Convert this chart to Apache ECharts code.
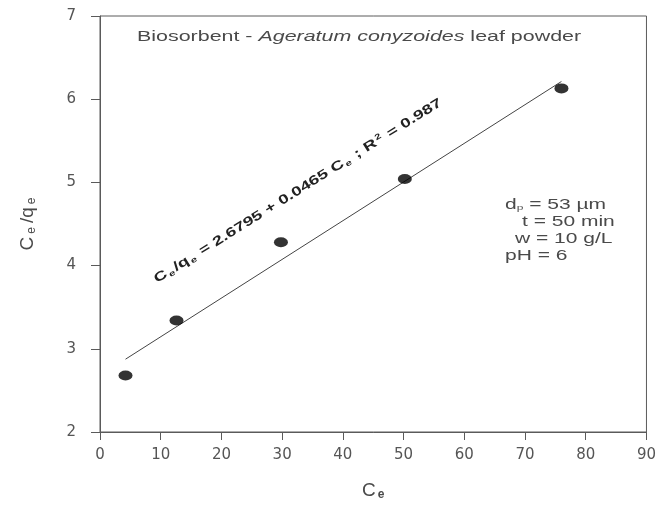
<!DOCTYPE html>
<html><head><meta charset="utf-8">
<script src="https://cdn.jsdelivr.net/npm/echarts@6/dist/echarts.min.js"></script>
<style>html,body{margin:0;padding:0;background:#fff}#c{width:659px;height:506px}</style>
</head><body><div id="c"></div>
<script>
var ceValues = [4.2, 12.6, 29.8, 50.2, 76.0];
var ceQeValues = [2.68, 3.34, 4.28, 5.04, 6.13];
var fitX = [4.2, 76.0];
var fitY = [2.875, 6.213];
var xTicks = [0, 10, 20, 30, 40, 50, 60, 70, 80, 90];
var yTicks = [2, 3, 4, 5, 6, 7];

var chart = echarts.init(document.getElementById('c'));
var axisColor = '#5a5a5a';
var font = 'Liberation Sans, Arial, sans-serif';
var lblFont = 'DejaVu Sans, sans-serif';
var txt = '#4a4a4a';
chart.setOption({
  animation: false,
  grid: {left: 100, right: 6, top: 16, bottom: 69, show: true, borderColor: axisColor, borderWidth: 1},
  xAxis: {
    type: 'value', min: 0, max: 90, interval: 10,
    axisLine: {show: true, lineStyle: {color: axisColor}},
    axisTick: {show: true, length: 8, lineStyle: {color: axisColor}},
    splitLine: {show: false},
    axisLabel: {color: '#555', fontSize: 15, fontFamily: lblFont, margin: 16},
    name: '{m|C}{s|e}', nameLocation: 'middle', nameGap: 48,
    nameTextStyle: {rich: {
      m: {fontSize: 19, color: txt, fontFamily: font},
      s: {fontSize: 12, color: txt, fontFamily: font, fontWeight: 'bold', padding: [9, 0, 0, 2]}
    }}
  },
  yAxis: {
    type: 'value', min: 2, max: 7, interval: 1,
    axisLine: {show: true, lineStyle: {color: axisColor}},
    axisTick: {show: true, length: 9, lineStyle: {color: axisColor}},
    splitLine: {show: false},
    axisLabel: {color: '#555', fontSize: 15, fontFamily: lblFont, margin: 24},
    name: '{m|C}{s|e}{m|/q}{s|e}', nameLocation: 'middle', nameGap: 62, nameRotate: 90,
    nameTextStyle: {rich: {
      m: {fontSize: 19, color: txt, fontFamily: font, padding: [0, 2, 0, 2]},
      s: {fontSize: 12, color: txt, fontFamily: font, padding: [8, 2, 0, 1]}
    }}
  },
  series: [
    {
      type: 'line', data: fitX.map(function (x, i) { return [x, fitY[i]]; }),
      showSymbol: false, symbol: 'none', lineStyle: {color: '#444', width: 1}, z: 1
    },
    {
      type: 'scatter', data: ceValues.map(function (x, i) { return [x, ceQeValues[i]]; }),
      symbol: 'circle', symbolSize: [14, 10], itemStyle: {color: '#000'}, z: 3
    }
  ],
  graphic: [
    {type: 'text', x: 137, y: 37, scaleX: 1.53, style: {
      text: '{n|Biosorbent - }{i|Ageratum conyzoides}{n| leaf powder}',
      align: 'left', verticalAlign: 'middle',
      rich: {
        n: {fontSize: 14, fill: txt, fontFamily: font},
        i: {fontSize: 14, fill: txt, fontFamily: font, fontStyle: 'italic'}
      }
    }},
    {type: 'text', x: 298, y: 191, rotation: 32 * Math.PI / 180, scaleX: 1.42, style: {
      text: '{m|C}{s|e}{m|/q}{s|e}{m| = 2.6795 + 0.0465 C}{s|e}{m| ; R}{p|2}{m| = 0.987}',
      align: 'center', verticalAlign: 'middle',
      rich: {
        m: {fontSize: 13, fontWeight: 'bold', fill: '#222', fontFamily: font},
        s: {fontSize: 8, fontWeight: 'bold', fill: '#222', fontFamily: font, padding: [7, 1, 0, 1]},
        p: {fontSize: 8, fontWeight: 'bold', fill: '#222', fontFamily: font, padding: [0, 1, 7, 1]}
      }
    }},
    {type: 'text', x: 505, y: 205, scaleX: 1.5, style: {text: '{m|d}{s|p}{m| = 53 \u00b5m}', verticalAlign: 'middle', rich: {
      m: {fontSize: 14, fill: txt, fontFamily: font},
      s: {fontSize: 8, fill: txt, fontFamily: font, padding: [6, 0, 0, 0]}
    }}},
    {type: 'text', x: 522, y: 222, scaleX: 1.5, style: {text: 't = 50 min', verticalAlign: 'middle', fontSize: 14, fill: txt, fontFamily: font}},
    {type: 'text', x: 515, y: 239, scaleX: 1.5, style: {text: 'w = 10 g/L', verticalAlign: 'middle', fontSize: 14, fill: txt, fontFamily: font}},
    {type: 'text', x: 505, y: 256, scaleX: 1.5, style: {text: 'pH = 6', verticalAlign: 'middle', fontSize: 14, fill: txt, fontFamily: font}}
  ]
});
</script></body></html>
